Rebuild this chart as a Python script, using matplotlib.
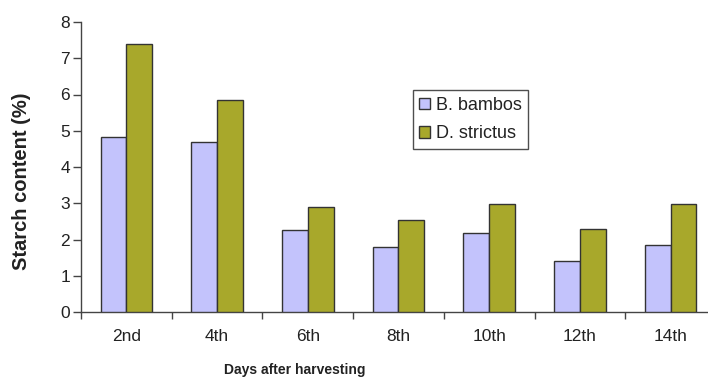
import matplotlib
matplotlib.use("Agg")
import matplotlib.pyplot as plt
import numpy as np

plt.rcParams['font.family'] = ['Liberation Sans', 'DejaVu Sans']

days = ["2nd", "4th", "6th", "8th", "10th", "12th", "14th"]
b_bambos = [4.83, 4.70, 2.27, 1.80, 2.18, 1.42, 1.84]
d_strictus = [7.39, 5.86, 2.91, 2.53, 2.99, 2.30, 2.99]
y_ticks = [0, 1, 2, 3, 4, 5, 6, 7, 8]

fig = plt.figure(figsize=(7.08, 3.79), dpi=100)
ax = fig.add_axes([81 / 708, 1 - 312 / 379, 635 / 708, 290 / 379])

x = np.arange(len(days))
w = 0.284
edge = "#333333"
ax.bar(x - w / 2, b_bambos, w, color="#C3C3FC", edgecolor=edge, linewidth=1.0,
       label="B. bambos", zorder=3)
ax.bar(x + w / 2, d_strictus, w, color="#A8A82B", edgecolor=edge, linewidth=1.0,
       label="D. strictus", zorder=3)

ax.set_xlim(-0.5, len(days) - 0.5)
ax.set_ylim(0, 8)
ax.set_yticks(y_ticks)
ax.set_yticklabels([str(t) for t in y_ticks])

# category boundaries carry the tick marks, centres carry the labels
ax.set_xticks(np.arange(-0.5, len(days), 1.0))
ax.set_xticklabels([])
ax.set_xticks(x, minor=True)
ax.set_xticklabels(days, minor=True)
ax.tick_params(axis="x", which="major", length=5, width=1, color="#444444")
ax.tick_params(axis="x", which="minor", length=0, pad=12, labelsize=12.5,
               labelcolor="#222222")
ax.tick_params(axis="y", length=6, width=1, color="#444444", labelsize=12.5,
               labelcolor="#222222", pad=2)

for s in ["top", "right"]:
    ax.spines[s].set_visible(False)
for s in ["left", "bottom"]:
    ax.spines[s].set_color("#444444")
    ax.spines[s].set_linewidth(1.0)

fig.text(22 / 708, 1 - 181 / 379, "Starch content (%)", rotation=90,
         ha="center", va="center", fontsize=14.5, fontweight="bold",
         color="#222222")
fig.text(295 / 708, 1 - 370 / 379, "Days after harvesting", ha="center",
         va="center", fontsize=10, fontweight="bold", color="#222222")

leg = ax.legend(loc="upper left", bbox_to_anchor=(412.7 / 708, 1 - 90.3 / 379),
                bbox_transform=fig.transFigure, frameon=True, fancybox=False,
                edgecolor="#222222", fontsize=13, handlelength=0.6,
                handleheight=0.6, handletextpad=0.35, borderpad=0.35,
                labelspacing=0.65, borderaxespad=0)
leg.get_frame().set_linewidth(1.0)
for t in leg.get_texts():
    t.set_color("#222222")

fig.savefig("out.png", dpi=100)
